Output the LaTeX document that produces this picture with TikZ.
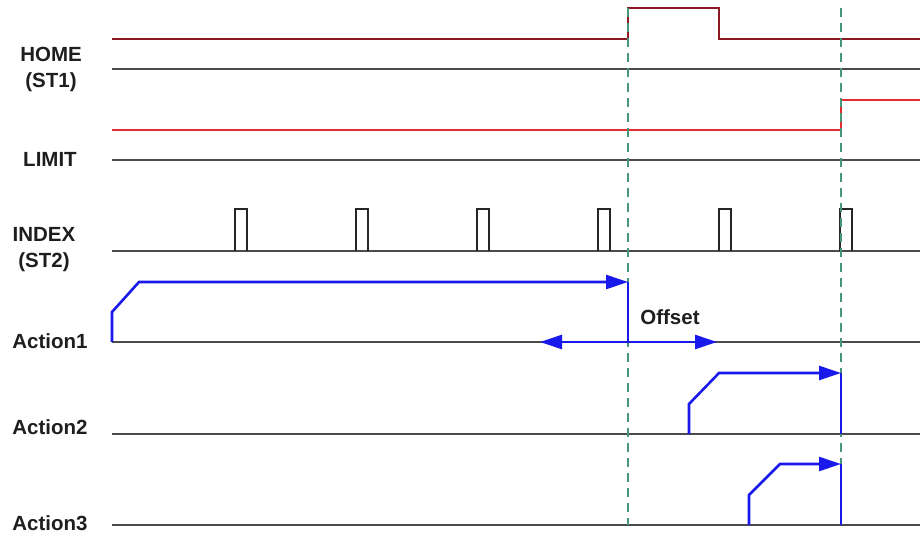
\documentclass[tikz,border=0pt]{standalone}
\usepackage{fontspec}
\setmainfont{Liberation Sans}
\usepackage{tikz}
\usetikzlibrary{positioning,arrows.meta,calc}
\definecolor{sigred}{RGB}{228,45,50}
\definecolor{homered}{RGB}{140,25,35}
\definecolor{baseg}{RGB}{75,75,75}
\definecolor{actblue}{RGB}{25,25,235}
\definecolor{markgreen}{RGB}{70,150,120}
\definecolor{lbltext}{RGB}{30,30,30}
\tikzset{
  lbl/.style={font=\fontsize{20.5}{26}\selectfont\bfseries, text=lbltext, align=center, inner sep=0pt},
  base/.style={draw=baseg, line width=1.8pt},
  level/.style={draw=sigred, line width=1.4pt},
  pulse/.style={draw=black!85, line width=1.3pt},
  act/.style={draw=actblue, line width=2.6pt},
  actarr/.style={act, -{Triangle[length=22pt,width=14pt]}},
  timemark/.style={draw=markgreen, line width=1.1pt, dash pattern=on 9pt off 6pt},
}
\begin{document}
\begin{tikzpicture}[x=1pt,y=-1pt]
    \useasboundingbox (0,0) rectangle (920,533);
    % signal names
    \node[lbl] (home) at (51,69) {HOME\\(ST1)};
    \node[lbl] (limit) at (50,159) {LIMIT};
    \node[lbl] (index) at (44,250) {INDEX\\(ST2)};
    \node[lbl] (act1) at (50,341) {Action1};
    \node[lbl] (act2) at (50,427) {Action2};
    \node[lbl] (act3) at (50,523) {Action3};
    % base lines
    \foreach \y in {69,160,251,342,434,525}
      \draw[base] (112,\y) -- (920,\y);
    % HOME and LIMIT levels
    \draw[level, draw=homered] (112,39) -- (628,39) -- (628,8) -- (719,8) -- (719,39) -- (920,39);
    \draw[level] (112,130) -- (841,130) -- (841,100) -- (920,100);
    % index pulses
    \foreach \x in {235,356,477,598,719,840}
      \draw[pulse] (\x,251) -- (\x,209) -- (\x+12,209) -- (\x+12,251);
    % markers
    \coordinate (m1top) at (628,8);
    \coordinate (m1bot) at (628,525);
    \coordinate (m2top) at (841,8);
    \coordinate (m2bot) at (841,525);
    \draw[timemark] (m1top) -- (m1bot);
    \draw[timemark] (m2top) -- (m2bot);
    % actions
    \draw[actarr] (112,342) -- (112,312) -- (139,282) -- (628,282);
    \draw[act] (628,282) -- (628,342);
    \draw[act, {Triangle[length=22pt,width=14pt]}-{Triangle[length=22pt,width=14pt]}] (540,342) -- (717,342);
    \node[lbl] (off) at (670,317) {Offset};
    \draw[actarr] (689,434) -- (689,404) -- (719,373) -- (841,373);
    \draw[act] (841,373) -- (841,434);
    \draw[actarr] (749,525) -- (749,495) -- (780,464) -- (841,464);
    \draw[act] (841,464) -- (841,525);
  \end{tikzpicture}
\end{document}
